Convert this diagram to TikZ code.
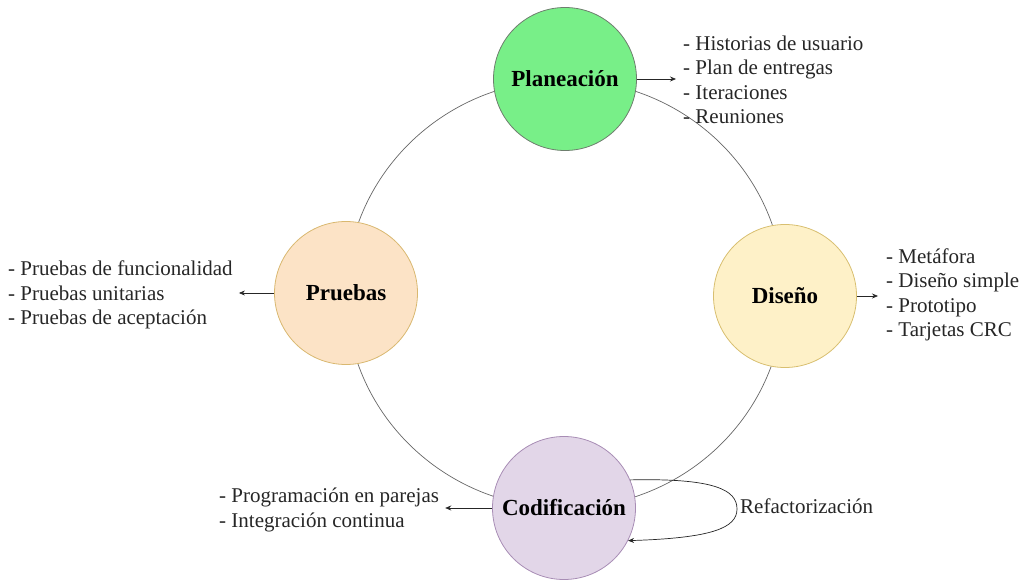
\documentclass[tikz,border=0pt]{standalone}
\usepackage{fontspec}
\setmainfont{Liberation Serif}
\usetikzlibrary{arrows.meta}
\definecolor{planfill}{HTML}{78EF88}
\definecolor{plandraw}{HTML}{6E7E6E}
\definecolor{pruefill}{HTML}{FCE3C6}
\definecolor{pruedraw}{HTML}{D9B870}
\definecolor{disfill}{HTML}{FEF1C8}
\definecolor{disdraw}{HTML}{D8BF70}
\definecolor{codfill}{HTML}{E2D6E8}
\definecolor{coddraw}{HTML}{A88DB5}
\definecolor{txt}{HTML}{262626}
\tikzset{
  phase/.style={circle, minimum size=143pt, inner sep=0pt, line width=0.8pt,
    font=\fontsize{23}{27}\selectfont\bfseries, text=black},
  listtext/.style={align=left, inner sep=0pt, text=txt,
    font=\fontsize{21}{24.5}\selectfont},
  arr/.style={-{Stealth[length=6pt,width=5pt]}, line width=0.7pt, draw=black!85},
  ring/.style={draw=black!60, line width=0.7pt}
}
\begin{document}
\begin{tikzpicture}[x=1pt,y=-1pt]
\useasboundingbox (0,0) rectangle (1023,580);
\draw[ring] (565,294) ellipse [x radius=219, y radius=214];
\node[phase, fill=planfill, draw=plandraw] (plan) at (565,79) {Planeación};
\node[phase, fill=pruefill, draw=pruedraw] (prue) at (346,293) {Pruebas};
\node[phase, fill=disfill, draw=disdraw] (dis) at (785,296) {Diseño};
\node[phase, fill=codfill, draw=coddraw] (cod) at (564,508) {Codificación};

\node[listtext, anchor=west, inner xsep=7pt] (planlist) at (676,80)
  {- Historias de usuario\\- Plan de entregas\\- Iteraciones\\- Reuniones};
\node[listtext, anchor=west, inner xsep=6pt] (prulist) at (2,295)
  {- Pruebas de funcionalidad\\- Pruebas unitarias\\- Pruebas de aceptación};
\node[listtext, anchor=west, inner xsep=8pt] (dislist) at (878,295)
  {- Metáfora\\- Diseño simple\\- Prototipo\\- Tarjetas CRC};
\node[listtext, anchor=west, inner xsep=6pt] (codlist) at (213,510)
  {- Programación en parejas\\- Integración continua};
\node[listtext, anchor=west] (refac) at (740,506) {Refactorización};

\draw[arr] (plan.east) -- (plan.east -| planlist.west);
\draw[arr] (prue.west) -- (prue.west -| prulist.east);
\draw[arr] (dis.east) -- (dis.east -| dislist.west);
\draw[arr] (cod.west) -- (cod.west -| codlist.east);
\draw[arr] (cod.23) .. controls (715,478) and (737,490) .. (737,509)
  .. controls (737,528) and (712,538) .. (cod.-27);
\end{tikzpicture}
\end{document}
